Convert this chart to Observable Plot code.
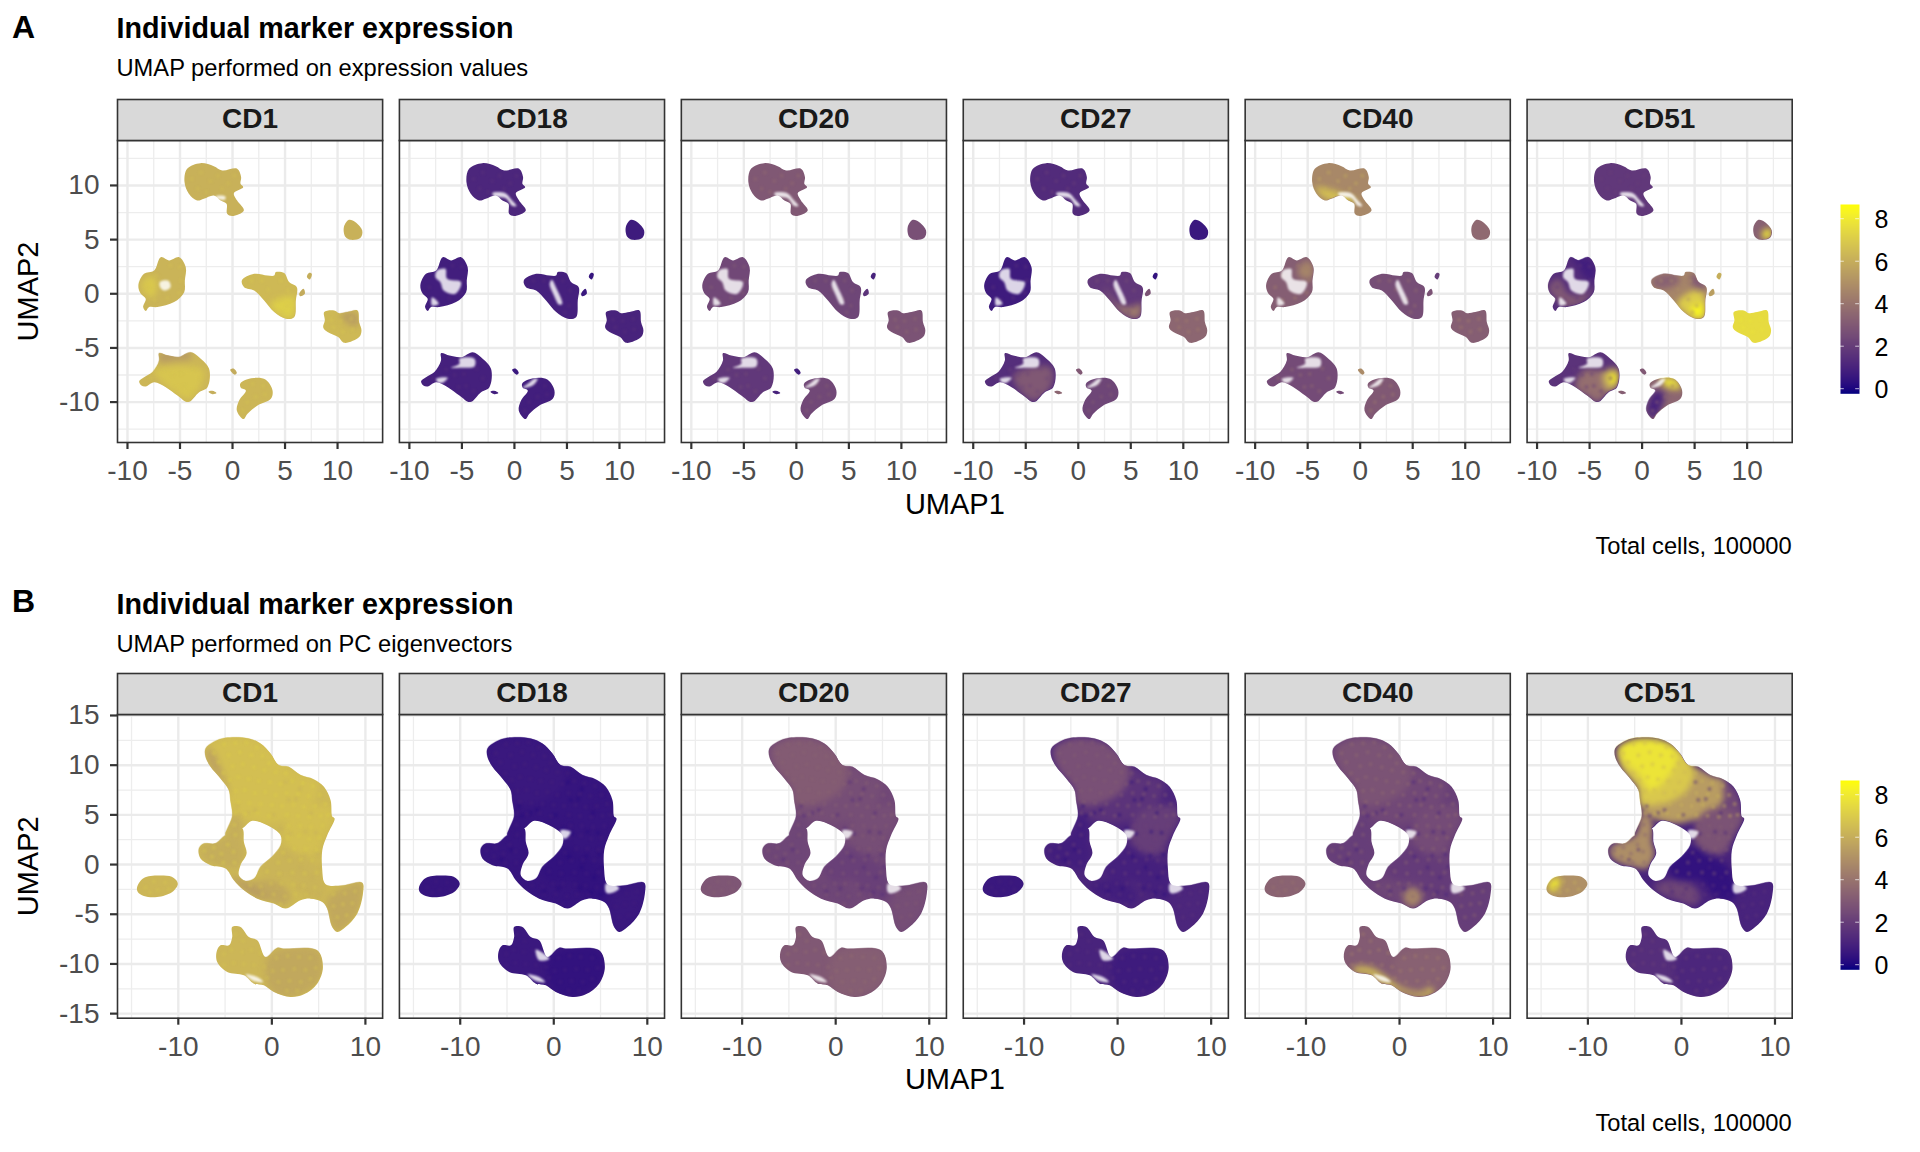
<!DOCTYPE html>
<html>
<head>
<meta charset="utf-8">
<script src="https://cdn.jsdelivr.net/npm/d3@7"></script>
<script src="https://cdn.jsdelivr.net/npm/@observablehq/plot@0.6"></script>
<style>
html,body{margin:0;padding:0;background:#fff;}
#page{position:relative;width:1920px;height:1152px;overflow:hidden;font-family:"Liberation Sans",sans-serif;color:#000;}
#page svg{position:absolute;background:transparent;max-width:none;}
.t{position:absolute;white-space:nowrap;line-height:1;}
</style>
</head>
<body>
<div id="page"></div>
<script>
const markers = ["CD1","CD18","CD20","CD27","CD40","CD51"];
const colorDomain = [-0.24, 8.67];
const legendTicks = [0,2,4,6,8];

// ---------- Row A: UMAP on expression values ----------
const xMajorA = [-10,-5,0,5,10];
const xMinorA = [-7.5,-2.5,2.5,7.5,12.5];
const yMajorA = [-10,-5,0,5,10];
const yMinorA = [-12.5,-7.5,-2.5,2.5,7.5,12.5];

const clustersA = {
  top:[[-4.57,10.31],[-4.32,11.54],[-3.05,12.06],[-1.78,11.78],[-0.98,11.38],[0.44,11.54],[0.82,10.77],[0.76,10.15],[1.02,9.84],[0.13,9.29],[0.44,8.61],[1.08,7.69],[-0.03,7.17],[-0.51,7.38],[-0.57,8.3],[-1.14,8.61],[-1.78,9.07],[-2.73,8.77],[-3.37,8.61],[-4.16,9.23]],
  smallTR:[[10.6,6.15],[11.08,6.83],[11.71,6.61],[12.35,5.84],[12.19,5.17],[11.24,4.98],[10.76,5.23]],
  midL:[[-8.96,0.77],[-8.42,1.84],[-7.46,2.15],[-6.83,3.38],[-6.03,3.08],[-5.08,3.38],[-4.45,2.46],[-4.54,1.23],[-4.6,0.15],[-5.56,-0.77],[-7.15,-1.23],[-7.94,-1.23],[-8.26,-1.6],[-8.51,-1.23],[-8.26,-0.46],[-8.73,0]],
  midR:[[0.89,1.23],[2.06,1.84],[3.33,1.69],[3.97,1.69],[4.12,2.0],[4.92,1.91],[5.39,1.08],[6.12,0.61],[6.03,-0.62],[5.87,-2.16],[5.08,-2.31],[3.97,-1.69],[3.01,-0.62],[2.06,0.31],[1.11,0.61]],
  tail1:[[6.35,0],[6.76,0.46],[6.89,0],[6.44,-0.22]],
  tail2:[[7.08,1.54],[7.3,1.94],[7.55,1.85],[7.36,1.32]],
  right:[[8.73,-1.69],[9.68,-1.54],[10.16,-1.79],[10.95,-1.69],[11.9,-1.54],[12.06,-2.62],[12.28,-3.39],[12.06,-4.0],[10.63,-4.53],[10.06,-4.0],[9.05,-3.54],[8.63,-3.08],[8.79,-2.46]],
  botL:[[-8.89,-8.07],[-8.42,-7.7],[-7.62,-7.23],[-6.99,-6.16],[-6.99,-5.48],[-6.19,-5.7],[-5.08,-5.85],[-3.97,-5.39],[-3.18,-5.85],[-2.23,-6.93],[-2.38,-8.62],[-3.18,-9.08],[-4.22,-10],[-5.24,-9.39],[-6.35,-8.62],[-7.46,-8.16],[-8.26,-8.56],[-8.67,-8.47]],
  tiny1:[[-0.22,-7.02],[0.09,-6.9],[0.41,-7.3],[0.22,-7.48]],
  tiny2:[[-2.29,-9.05],[-1.91,-8.96],[-1.53,-9.17],[-1.91,-9.27]],
  botM:[[0.73,-8.31],[1.27,-7.94],[2.38,-7.76],[3.17,-7.94],[3.81,-8.93],[3.65,-9.7],[2.38,-10.31],[1.43,-11.08],[1.05,-11.57],[0.41,-10.77],[0.63,-9.85],[1.27,-8.93],[0.79,-8.68]]
};
// expression per cluster, in the order of `markers`
const levelsA = {
  top:    [6.1,1.1,3.0,1.3,4.7,1.8],
  smallTR:[6.1,0.7,2.7,0.6,3.6,3.3],
  midL:   [6.2,0.8,2.4,0.7,3.2,1.4],
  midR:   [6.4,0.9,2.3,1.8,2.6,4.6],
  tail1:  [5.9,0.6,1.6,2.8,2.8,5.5],
  tail2:  [6.0,0.5,1.0,0.4,2.0,6.0],
  right:  [6.4,1.0,2.8,3.5,3.2,7.5],
  botL:   [6.3,0.9,1.8,1.4,2.5,1.6],
  tiny1:  [5.9,0.6,0.8,3.0,4.8,3.0],
  tiny2:  [6.0,0.8,1.0,3.5,2.5,3.2],
  botM:   [6.3,0.8,2.4,2.3,3.0,3.5]
};
const speckDeltaA = [0.4,0.5,0.8,0.9,1.2,0.3];
const specksA = {
  top:[[-3.9,10.6],[-3.0,11.2],[-2.1,10.4],[-3.3,9.7],[-1.4,10.9],[-0.4,10.2],[0.2,10.9],[-1.0,9.7],[-2.5,9.4]],
  midL:[[-8.1,0.6],[-7.3,1.7],[-5.9,2.6],[-5.0,2.5],[-4.9,1.2],[-5.1,0.1],[-6.2,-0.4],[-7.4,-0.6]],
  midR:[[1.8,1.2],[2.8,1.2],[3.4,0.4],[4.6,1.2],[5.3,0.3],[4.4,-0.5],[5.2,-1.1],[4.8,-1.7]],
  right:[[9.4,-2.4],[10.3,-2.5],[11.3,-2.3],[11.4,-3.3],[10.5,-3.5],[9.6,-3.1]],
  botL:[[-7.8,-7.8],[-6.5,-7.0],[-5.7,-7.5],[-4.8,-7.4],[-3.6,-6.9],[-3.0,-7.8],[-4.6,-8.5],[-3.9,-9.0],[-5.3,-8.6]],
  botM:[[1.9,-8.3],[2.9,-8.5],[3.1,-9.3],[2.2,-9.5],[1.4,-10.0],[1.0,-10.8]]
};
const patchesA = [
  ["CD1",7.1,[[3.62,-0.93],[5.84,-0.32],[5.68,-2.2],[4.89,-2.16]]],
  ["CD1",6.8,[[-7.49,-7.09],[-2.73,-7.09],[-4.0,-9.7],[-5.27,-9.24]]],
  ["CD1",5.4,[[-7.02,-5.55],[-4,-5.39],[-4,-6.01],[-5.27,-6.16],[-6.86,-6.32]]],
  ["CD1",5.5,[[10.28,-1.85],[11.87,-1.85],[12.03,-2.93],[10.92,-2.78]]],
  ["CD1",6.9,[[-8.7,0.7],[-8.0,1.6],[-7.2,1.2],[-7.6,-0.4]]],
  ["CD27",4.2,[[2.48,0.61],[3.75,-0.93],[4.86,-1.24],[5.97,-0.93],[5.81,-2.2],[5.17,-2.23],[3.9,-1.55],[2.95,-0.32]]],
  ["CD27",3.0,[[-6.13,-7.4],[-2.63,-6.78],[-2.54,-8.47],[-4.19,-9.9],[-5.3,-9.24],[-6.13,-8.01]]],
  ["CD40",6.6,[[-4.22,9.84],[-2.48,9.53],[-0.89,8.92],[-0.1,8.61],[-1.52,8.46],[-3.11,8.67],[-3.9,9.23]]],
  ["CD40",8.5,[[-1.46,8.86],[-0.89,8.73],[-1.27,8.55]]],
  ["CD40",4.6,[[-5.97,2.15],[-5.02,3.07],[-4.44,2.3],[-4.7,1.38],[-5.65,1.53]]],
  ["CD51",3.3,[[0.89,1.23],[2.06,1.84],[3.33,1.69],[3.6,1.2],[2.4,0.5],[1.11,0.61]]],
  ["CD51",3.0,[[4.92,1.91],[6.12,0.61],[5.55,0.31],[4.6,1.23]]],
  ["CD51",7.0,[[3.33,-0.92],[4.28,0],[5.55,0.31],[6.03,-0.62],[5.87,-2.16],[5.08,-2.31],[3.97,-1.69]]],
  ["CD51",8.3,[[4.6,-1.39],[5.71,-0.92],[5.81,-2.16],[5.08,-2.22]]],
  ["CD51",3.8,[[-6.35,-8.62],[-5.56,-7.08],[-3.97,-7.08],[-2.23,-6.93],[-2.38,-8.62],[-3.18,-9.08],[-4.22,-10],[-5.24,-9.39]]],
  ["CD51",6.0,[[-3.81,-7.54],[-3.02,-6.93],[-2.32,-7.08],[-2.45,-8.62],[-3.27,-8.93]]],
  ["CD51",8.3,[[-3.02,-7.39],[-2.38,-7.54],[-2.54,-8.31],[-3.02,-8.16]]],
  ["CD51",1.0,[[0.41,-10.77],[0.63,-9.85],[1.27,-8.93],[2.06,-9.23],[1.9,-10.31],[1.05,-11.57]]],
  ["CD51",7.6,[[1.74,-7.85],[3.17,-7.85],[3.65,-8.77],[2.7,-8.77],[1.9,-8.31]]],
  ["CD51",7.8,[[11.43,5.69],[12.22,6.0],[12.22,5.17],[11.59,5.08]]],
  ["CD51",3.0,[[-8.89,0.61],[-7.94,1.38],[-6.99,0],[-5.56,0],[-4.6,0.61],[-5.56,-0.77],[-7.15,-1.23],[-8.26,-0.46]]],
  ["CD51",0.8,[[-6.83,3.23],[-5.08,3.29],[-4.45,2.46],[-4.54,1.23],[-5.56,1.54],[-6.19,2.77]]]
];
const gapsA = {
  midLHole:[[-7.37,2.15],[-6.57,2.3],[-6.41,1.38],[-5.08,1.07],[-5.62,0],[-6.73,0.3],[-7.05,1.07],[-7.52,1.53]],
  midLFoot:[[-7.84,-0.32],[-7.2,-0.93],[-7.84,-1.09]],
  topNotch:[[-2.1,9.3],[-0.9,9.3],[-0.3,8.7],[0.2,8.1],[-0.2,8.1],[-0.8,8.8],[-2.0,9.05]],
  botLTop:[[-5.24,-6.0],[-3.81,-6.0],[-3.81,-6.71],[-5.08,-6.83],[-6.03,-6.83],[-5.24,-6.46]],
  botLSide:[[-7.46,-7.85],[-6.35,-7.76],[-6.83,-8.22],[-7.3,-8.16]],
  botMNotch:[[0.79,-8.68],[1.74,-8.47],[2.22,-7.85],[1.9,-7.85],[1.27,-8.31]],
  midRStripe:[[3.55,1.3],[3.95,0.61],[4.55,-0.93],[4.25,-1.0],[3.7,-0.01],[3.35,0.9]],
  cd1Hole:[[-6.9,1.1],[-6.1,1.2],[-5.9,0.6],[-6.5,0.3],[-6.9,0.6]],
  cd1Notch:[[-1.6,9.0],[-0.7,9.0],[-0.7,8.7],[-1.5,8.8]]
};
const gapUseA = {
  CD1:["cd1Hole","cd1Notch"],
  CD18:["midLHole","midLFoot","topNotch","botLTop","botLSide","botMNotch","midRStripe"],
  CD20:["midLHole","midLFoot","topNotch","botLTop","botLSide","botMNotch","midRStripe"],
  CD27:["midLHole","midLFoot","topNotch","botLTop","botLSide","botMNotch","midRStripe"],
  CD40:["midLHole","midLFoot","topNotch","botLTop","botLSide","botMNotch","midRStripe"],
  CD51:["midLHole","midLFoot","topNotch","botLTop","botLSide","botMNotch"]
};

// ---------- Row B: UMAP on PC eigenvectors ----------
const xMajorB = [-10,0,10];
const xMinorB = [-15,-5,5];
const yMajorB = [-15,-10,-5,0,5,10,15];
const yMinorB = [-12.5,-7.5,-2.5,2.5,7.5,12.5];

const clustersB = {
  leftIsland:[[-14.4,-2.25],[-13.68,-1.34],[-11.55,-1.11],[-10.48,-1.34],[-10.05,-1.92],[-10.65,-2.75],[-12.26,-3.26],[-13.68,-3.16],[-14.33,-2.75]],
  main:[[-7.09,11.68],[-6.2,12.35],[-4.95,12.75],[-2.46,12.69],[-1.21,12.18],[-0.14,11.18],[0.75,10],[1.82,9.83],[3.07,9],[4.5,8.56],[5.57,7.82],[6.28,6.48],[6.46,4.8],[6.71,4.63],[5.92,2.95],[5.39,1.44],[5.39,-0.57],[5.57,-1.75],[5.92,-2.08],[7.7,-2.08],[9.67,-1.82],[9.74,-2.92],[9.13,-4.94],[7.88,-6.28],[6.99,-6.78],[6.46,-6.28],[5.92,-4.43],[5.39,-3.76],[4.14,-3.43],[3.07,-3.59],[1.47,-4.43],[0.22,-3.93],[-1.56,-3.43],[-2.99,-2.59],[-4.06,-1.58],[-4.95,-0.4],[-6.55,-0.07],[-7.62,0.6],[-7.8,1.61],[-7.27,2.11],[-6.02,2.11],[-4.95,2.95],
    [-3.17,3.62],[-2.99,2.28],[-2.7,1.11],[-3.35,-0.07],[-3.52,-1.08],[-2.81,-1.65],[-1.92,-1.41],[-1.21,-0.24],[0.04,0.77],[0.93,1.95],[0.93,2.95],[-0.49,3.96],[-2.1,4.4],[-3.17,3.62],
    [-4.95,2.95],[-4.24,4.8],[-4.42,6.48],[-4.59,7.48],[-5.49,8.66],[-6.55,9.83],[-7.09,10.84]],
  bottom:[[-4.24,-6.28],[-3.35,-6.28],[-2.46,-7.29],[-1.56,-7.62],[-0.67,-9.3],[0.58,-8.36],[1.29,-8.46],[4.85,-8.63],[5.46,-10.31],[4.85,-11.99],[3.43,-13.06],[2,-13.33],[0.22,-12.83],[-0.85,-12.15],[-1.92,-11.99],[-2.99,-11.15],[-4.77,-10.81],[-5.84,-9.8],[-5.91,-8.8],[-5.49,-8.13],[-4.59,-8.13],[-4.24,-7.29]]
};
const levelsB = {
  leftIsland:[6.3,0.5,2.9,0.6,3.4,5.0],
  main:      [6.4,0.5,2.4,1.1,2.1,1.0],
  bottom:    [6.3,0.6,3.0,1.0,3.1,1.4]
};
// Named areas of the clusters, painted over them in this order
const areasB = {
  topDeck:[[-4.39,5.8],[-2.96,4.63],[-0.46,4.13],[1.32,4.46],[3.1,4.8],[4.53,6.48],[4.88,8.32],[3.1,8.99],[1.32,9.83],[-2.25,9.83],[-4.56,7.48]],
  midRight:[[1.5,4.13],[2.75,5.47],[6.31,5.81],[6.6,4.63],[5.6,2.78],[4.53,1.11],[2.75,1.11],[1.5,2.11]],
  leftLobe:[[-7.59,1.78],[-4.92,2.95],[-4.21,5.13],[-3.14,4.3],[-3.14,2.28],[-2.85,1.11],[-3.67,-0.4],[-5.1,-0.24],[-6.52,0.1],[-7.52,0.77]],
  arc:[[-2.96,-2.08],[-1.18,-1.58],[0.96,-1.92],[2.03,-3.26],[1.32,-4.1],[-0.46,-3.59],[-2.25,-2.92]],
  lowerDark:[[-1.35,-0.24],[1.32,1.78],[2.75,1.11],[5.24,-0.57],[5.6,-3.43],[3.81,-3.43],[2.03,-1.58],[-0.46,-1.58]],
  rightLobe:[[5.92,-3.59],[7.7,-2.25],[9.67,-1.82],[9.74,-2.92],[9.13,-4.94],[6.99,-6.78],[6.46,-6.28]],
  bottomRight:[[-0.49,-9.47],[1.29,-8.46],[4.85,-8.63],[5.46,-10.31],[4.85,-11.99],[2,-13.33],[-0.14,-12.66]],
  topLeft:[[-4.39,6.14],[-1.89,6.14],[0.61,7.48],[1.32,9.5],[0.61,10.84],[-1.53,12.35],[-4.92,12.69],[-6.88,11.68],[-6.52,9.83],[-4.74,7.65]]
};
const areaLevelsB = {
  topDeck:    [6.6,0.5,2.6,1.6,2.4,5.4],
  midRight:   [6.6,0.5,2.6,2.0,2.5,2.8],
  leftLobe:   [6.0,0.5,2.3,0.8,2.0,4.9],
  arc:        [5.8,0.5,2.3,0.8,2.3,2.3],
  lowerDark:  [6.2,0.4,2.1,0.9,1.9,0.4],
  rightLobe:  [5.8,0.6,2.6,1.1,2.0,1.0],
  bottomRight:[5.8,0.4,3.2,0.7,3.3,1.1],
  topLeft:    [6.6,0.6,3.1,2.7,2.8,6.9]
};
const patchesB = [
  ["CD51",7.8,[[-6.52,11.85],[-4.92,12.59],[-1.89,12.45],[-0.46,11.18],[-1.18,9.16],[-3.32,7.48],[-4.56,9.16],[-6.17,10.5]]],
  ["CD51",8.0,[[-14.19,-2.08],[-13.47,-1.34],[-12.94,-1.58],[-13.65,-2.75]]],
  ["CD51",2.4,[[4.6,8.3],[5.6,7.8],[6.3,6.4],[6.4,5.0],[5.2,5.4],[4.6,6.6]]],
  ["CD40",6.2,[[-4.88,-10.31],[-3.1,-10.31],[-1.32,-11.31],[0.11,-12.32],[2.25,-12.83],[3.32,-12.32],[3.67,-12.93],[2.25,-13.33],[0.11,-12.83],[-1.68,-12.15],[-3.46,-11.15],[-4.88,-10.81]]],
  ["CD40",4.6,[[0.46,-2.92],[1.53,-2.25],[2.42,-3.26],[1.53,-4.27],[0.64,-3.93]]],
  ["CD1",5.6,[[-6.98,11.51],[-6.55,11.68],[-5.13,8.99],[-4.24,6.81],[-4.95,7.99],[-6.55,9.83]]],
  ["CD1",5.4,[[-4.42,-1.08],[-3.52,-1.41],[-1.92,-2.25],[-0.14,-3.43],[-1.56,-3.36],[-2.99,-2.59]]]
];
// Single cells that stand out of the cloud, in four zones plus the island
const specksB = {
  top:[[-6.2,11.2],[-5.1,12.1],[-3.9,12.2],[-2.7,12.3],[-1.6,11.8],[-5.7,10.3],[-4.6,11.0],[-3.4,11.3],[-2.2,11.0],[-1.0,10.9],[-0.3,10.2],[-5.2,9.2],[-4.2,9.9],[-3.1,10.1],[-1.9,9.8],[-0.8,9.5],[0.4,9.3],[1.5,9.2],[-4.5,8.5],[-3.6,8.8],[-2.5,8.6],[-1.4,8.4],[-0.2,8.3],[0.9,8.1],[2.2,8.4],[3.3,8.2],[4.4,7.9],[-3.9,7.4],[-2.9,7.5],[-1.8,7.2],[-0.7,7.3],[0.4,7.0],[1.6,7.2],[2.8,7.1],[3.9,6.9],[5.1,7.0],[-3.6,6.3],[-2.4,6.2],[-1.2,6.1],[0.0,6.0],[1.1,5.9],[2.3,6.0],[3.4,5.8],[4.6,5.9],[5.7,6.1],[-3.9,5.2],[-2.8,5.1],[-1.5,5.2],[-0.3,4.9],[1.6,5.0],[2.8,4.9],[4.0,4.8],[5.2,4.9],[6.0,5.0]],
  mid:[[-7.2,1.4],[-6.4,0.8],[-6.2,1.7],[-5.4,1.1],[-5.2,0.2],[-4.7,2.0],[-4.1,1.3],[-4.0,0.2],[-3.9,3.0],[-4.0,4.0],[1.8,3.9],[3.0,3.9],[4.2,3.8],[5.4,3.9],[1.7,2.7],[2.9,2.9],[4.0,2.6],[5.1,2.7],[1.2,1.2],[2.4,1.6],[3.6,1.6],[4.8,1.5],[0.7,0.2],[1.9,0.4],[3.1,0.5],[4.3,0.4],[-0.5,-0.7],[0.8,-0.9],[2.2,-0.8],[3.5,-0.9],[4.8,-0.8]],
  low:[[-2.3,-2.1],[-1.2,-2.2],[-0.1,-1.9],[1.0,-1.9],[2.3,-2.0],[3.4,-2.1],[4.6,-2.3],[-1.0,-3.0],[0.2,-3.0],[1.4,-3.2],[2.5,-3.0],[3.7,-3.0],[0.9,-4.0],[6.6,-3.0],[7.8,-2.9],[8.9,-2.7],[6.6,-4.2],[7.6,-4.0],[8.6,-3.9],[7.0,-5.3],[8.0,-5.1]],
  bottom:[[-3.9,-7.0],[-3.1,-7.7],[-5.1,-9.0],[-4.3,-8.6],[-3.2,-8.8],[-2.2,-8.6],[-1.2,-8.9],[-5.1,-10.1],[-4.1,-9.9],[-3.0,-10.0],[-1.9,-10.1],[-0.8,-10.3],[0.5,-9.4],[1.7,-9.2],[2.9,-9.3],[4.1,-9.4],[0.1,-10.7],[1.2,-10.6],[2.4,-10.5],[3.6,-10.6],[4.7,-10.4],[-0.5,-11.4],[0.7,-11.8],[1.9,-11.7],[3.1,-11.8],[4.1,-11.5],[1.6,-12.7],[2.7,-12.7]],
  island:[[-13.5,-2.3],[-12.6,-1.7],[-12.2,-2.6],[-11.4,-1.8],[-11.0,-2.5],[-13.0,-2.8]],
  flecks:[[-2.5,5.2],[-3.4,4.9],[0.2,5.0],[1.0,3.6],[2.0,3.1],[3.6,3.3],[1.6,0.8],[3.0,-0.3],[3.5,0.9],[4.3,-1.3],[2.8,-2.4],[4.0,-2.8],[5.0,-3.0],[-5.6,0.5],[-4.6,1.5],[-1.8,5.5],[1.8,6.5],[2.6,6.6],[3.0,7.6],[1.5,8.3],[4.9,1.0],[5.2,-0.2],[-1.0,-2.7],[0.5,-2.4],[-3.7,5.9],[4.2,5.2],[4.7,3.2]]
};
const speckLevelsB = {
  top:   [7.1,1.0,3.4,3.2,3.7,6.2],
  mid:   [7.0,0.9,3.1,2.2,3.5,3.2],
  low:   [6.8,0.8,3.0,1.6,3.5,1.6],
  bottom:[6.7,0.9,3.7,1.5,4.4,2.2],
  island:[6.8,0.8,3.3,1.0,4.0,6.0],
  flecks:[6.0,0.1,1.2,0.2,0.8,1.0]
};
const gapsB = {
  bottomNotch:[[-2.81,-11.05],[-1.56,-11.31],[-0.92,-11.82],[-1.92,-11.72]],
  rightJoin:[[5.57,-1.92],[6.46,-1.92],[6.99,-2.42],[5.92,-2.92],[5.57,-2.75]],
  holeEdge:[[0.75,3.46],[1.82,3.29],[1.29,2.62],[0.75,2.78]],
  bottomNeck:[[-1.92,-8.56],[-0.49,-9.47],[-1.56,-9.64]]
};
const gapUseB = {
  CD1:["bottomNotch"],
  CD18:["bottomNotch","rightJoin","holeEdge","bottomNeck"],
  CD20:["bottomNotch","rightJoin","holeEdge"],
  CD27:["bottomNotch","rightJoin","holeEdge","bottomNeck"],
  CD40:["bottomNotch","rightJoin","holeEdge"],
  CD51:["bottomNotch","rightJoin","holeEdge","bottomNeck"]
};

// ---------- table builders ----------
function polyRows(id, marker, v, pts){
  return pts.map(([x,y]) => ({id:`${marker}-${id}`, marker, v, x, y}));
}
function levelRows(shapes, levels){
  return markers.flatMap((m,i) => Object.keys(shapes).flatMap(k => polyRows(k, m, levels[k][i], shapes[k])));
}
function patchRows(patches){
  return patches.flatMap(([m,v,pts],j) => polyRows("p"+j, m, v, pts));
}
function gapRows(gaps, use){
  return markers.flatMap(m => use[m].flatMap(k => polyRows(k, m, 0, gaps[k])));
}
function speckRowsA(){
  return markers.flatMap((m,i) => Object.keys(specksA).flatMap(k =>
    polyRows(k, m, levelsA[k][i] + speckDeltaA[i], specksA[k])));
}

// Keeps a blurred layer inside the outlines of the clusters of its row
let clipCount = 0;
function clipTo(clusters){
  return function(index, scales, values, dims, context, next){
    const inner = next(index, scales, values, dims, context);
    if (inner == null) return inner;
    const ns = "http://www.w3.org/2000/svg";
    const line = d3.line().x(p => scales.x(p[0])).y(p => scales.y(p[1])).curve(d3.curveCatmullRomClosed);
    const id = "cluster-clip-" + (clipCount++);
    const wrap = document.createElementNS(ns, "g");
    const cp = document.createElementNS(ns, "clipPath");
    cp.setAttribute("id", id);
    const path = document.createElementNS(ns, "path");
    path.setAttribute("d", Object.values(clusters).map(line).join(""));
    cp.appendChild(path);
    wrap.appendChild(cp);
    wrap.setAttribute("clip-path", `url(#${id})`);
    wrap.appendChild(inner);
    const outer = document.createElementNS(ns, "g");
    outer.setAttribute("style", "filter:blur(0.5px)");
    outer.appendChild(wrap);
    return outer;
  };
}

const stripH = 41;
function row({top,height,panelTop,panelH,xDomain,yDomain,xMajor,xMinor,yMajor,yMinor,clusters,base,over,specks,flecks,gaps}){
  const svgW = 1840, left = 117, right = 1791.7;
  const poly = {x:"x",y:"y",z:"id",fx:"marker",curve:"catmull-rom-closed"};
  const clip = clipTo(clusters);
  const p = Plot.plot({
    width:svgW, height,
    marginLeft:left, marginRight:svgW-right,
    marginTop:panelTop-top, marginBottom:height-(panelTop-top)-panelH,
    style:{background:"transparent",fontFamily:"'Liberation Sans',sans-serif"},
    fx:{domain:markers,paddingInner:0.0596,paddingOuter:0,round:false,axis:null,label:null},
    x:{domain:xDomain,axis:null},
    y:{domain:yDomain,axis:null},
    color:{type:"linear",domain:colorDomain,range:["navy","yellow"],interpolate:d3.interpolateLab},
    marks:[
      Plot.ruleX(xMinor,{stroke:"#ededed",strokeWidth:1.3}),
      Plot.ruleY(yMinor,{stroke:"#ededed",strokeWidth:1.3}),
      Plot.ruleX(xMajor,{stroke:"#ebebeb",strokeWidth:2.4}),
      Plot.ruleY(yMajor,{stroke:"#ebebeb",strokeWidth:2.4}),
      Plot.line(base,{...poly,fill:"v",stroke:null,imageFilter:"blur(0.5px)"}),
      Plot.line(over,{...poly,fill:"v",stroke:null,imageFilter:"blur(3px)",render:clip}),
      Plot.dot(flecks,{x:"x",y:"y",fx:"marker",fill:"v",stroke:null,r:2.2,fillOpacity:0.35,imageFilter:"blur(0.8px)",render:clip}),
      Plot.dot(specks,{x:"x",y:"y",fx:"marker",fill:"v",stroke:null,r:2.2,fillOpacity:0.35,imageFilter:"blur(0.8px)",render:clip}),
      Plot.line(gaps,{...poly,fill:"white",stroke:null,fillOpacity:0.82,imageFilter:"blur(1px)"}),
      Plot.frame({stroke:"#333333",strokeWidth:1.6}),
      Plot.frame({fill:"#d9d9d9",stroke:"#333333",strokeWidth:1.6,insetTop:-stripH,insetBottom:panelH}),
      Plot.text(markers,{fx:d=>d,text:d=>d,frameAnchor:"top",dy:-stripH/2-1,lineAnchor:"middle",fontSize:28,fontWeight:"bold",fill:"#1a1a1a"}),
      Plot.axisX({ticks:xMajor,tickFormat:d=>String(d),tickSize:7,tickPadding:11,strokeWidth:2.2,stroke:"#333333",fill:"#4d4d4d",fontSize:28,label:null,anchor:"bottom"}),
      Plot.axisY({ticks:yMajor,tickFormat:d=>String(d),tickSize:7,tickPadding:11,strokeWidth:2.2,stroke:"#333333",fill:"#4d4d4d",fontSize:28,label:null,anchor:"left",facetAnchor:"left"}),
      Plot.text(["UMAP1"],{text:d=>d,frameAnchor:"bottom",dy:62,lineAnchor:"middle",fontSize:29,fill:"#000",facet:"super"}),
      Plot.text(["UMAP2"],{text:d=>d,frameAnchor:"left",textAnchor:"middle",dx:-89,rotate:-90,lineAnchor:"middle",fontSize:29,fill:"#000",facet:"super"})
    ]
  });
  p.style.left = "0px";
  p.style.top = top + "px";
  return p;
}
function legend(top){
  const h = 209.3;
  const p = Plot.plot({
    width:120, height:h, marginLeft:40, marginRight:61, marginTop:10, marginBottom:10,
    style:{background:"transparent",fontFamily:"'Liberation Sans',sans-serif"},
    x:{domain:[0,1],axis:null},
    y:{domain:colorDomain,axis:null},
    color:{type:"linear",domain:colorDomain,range:["navy","yellow"],interpolate:d3.interpolateLab},
    marks:[
      Plot.raster({x1:0,x2:1,y1:colorDomain[0],y2:colorDomain[1],width:1,height:190,fill:(x,y)=>y,imageRendering:"auto"}),
      Plot.ruleY(legendTicks,{x1:0,x2:0.2,stroke:"white",strokeOpacity:0.7,strokeWidth:1}),
      Plot.ruleY(legendTicks,{x1:0.8,x2:1,stroke:"white",strokeOpacity:0.7,strokeWidth:1}),
      Plot.axisY({anchor:"right",ticks:legendTicks,tickFormat:d=>String(d),tickSize:0,tickPadding:15,fontSize:25,dy:1.5,fill:"#000",label:null})
    ]
  });
  p.style.left = "1800px";
  p.style.top = top + "px";
  return p;
}
function label(text,x,y,size,opts={}){
  const d = document.createElement("div");
  d.className = "t";
  d.textContent = text;
  d.style.fontSize = size+"px";
  d.style.top = (y-size/2)+"px";
  if (opts.right!==undefined){ d.style.right = (1920-opts.right)+"px"; } else { d.style.left = x+"px"; }
  if (opts.bold) d.style.fontWeight = "bold";
  return d;
}

const page = document.getElementById("page");
page.append(
  row({top:0,height:530,panelTop:140,panelH:302,xDomain:[-10.95,14.29],yDomain:[-13.73,14.15],
       xMajor:xMajorA,xMinor:xMinorA,yMajor:yMajorA,yMinor:yMinorA,clusters:clustersA,
       base:levelRows(clustersA,levelsA),over:patchRows(patchesA),specks:speckRowsA(),flecks:[],gaps:gapRows(gapsA,gapUseA)}),
  row({top:580,height:540,panelTop:714,panelH:303.7,xDomain:[-16.5,11.84],yDomain:[-15.46,15.1],
       xMajor:xMajorB,xMinor:xMinorB,yMajor:yMajorB,yMinor:yMinorB,clusters:clustersB,
       base:levelRows(clustersB,levelsB),over:[...levelRows(areasB,areaLevelsB),...patchRows(patchesB)],
       specks:levelRows({top:specksB.top,mid:specksB.mid,low:specksB.low,bottom:specksB.bottom,island:specksB.island},speckLevelsB),
       flecks:levelRows({flecks:specksB.flecks},speckLevelsB),
       gaps:gapRows(gapsB,gapUseB)}),
  legend(194),
  legend(770),
  label("A",12,27,32,{bold:true}),
  label("Individual marker expression",116.5,28,28.7,{bold:true}),
  label("UMAP performed on expression values",116.5,69,23.7),
  label("Total cells, 100000",0,547,23.7,{right:1791.7}),
  label("B",12,601,32,{bold:true}),
  label("Individual marker expression",116.5,604,28.7,{bold:true}),
  label("UMAP performed on PC eigenvectors",116.5,645,23.7),
  label("Total cells, 100000",0,1124,23.7,{right:1791.7})
);
</script>
</body>
</html>
